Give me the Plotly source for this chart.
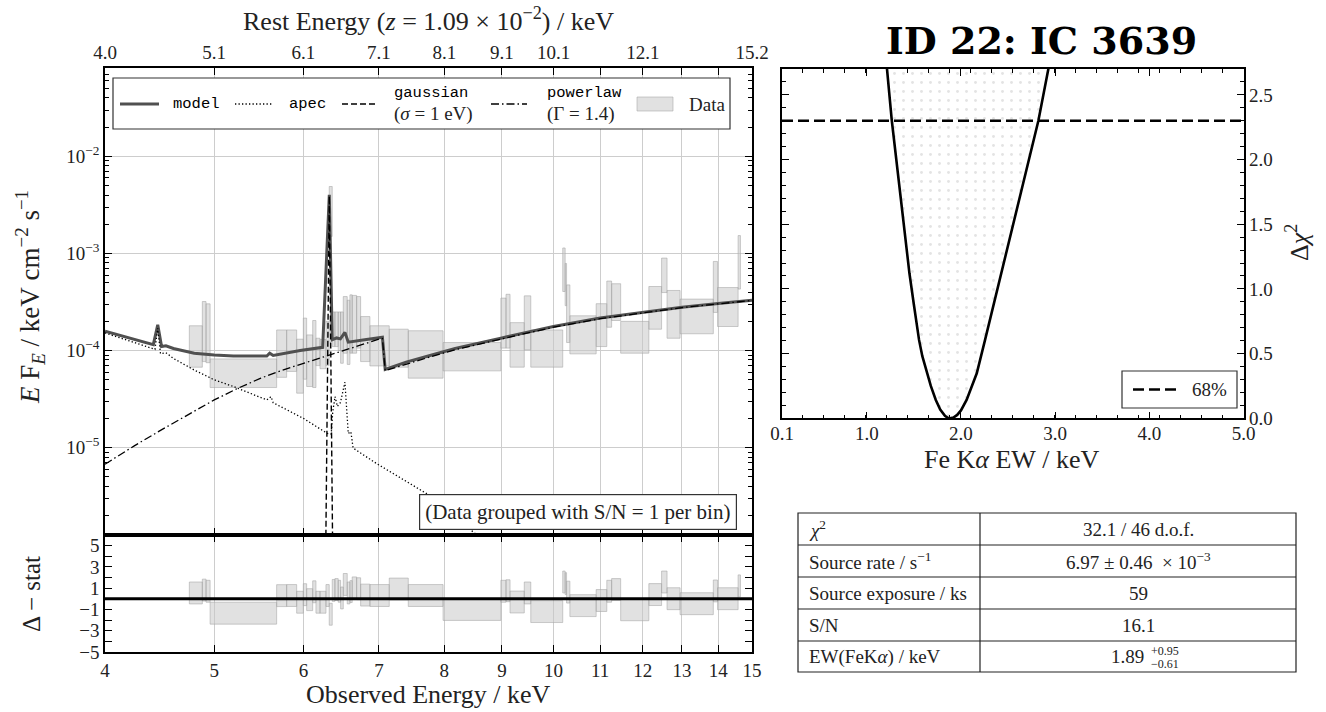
import plotly.graph_objects as go

W, H = 1326, 712
SERIF = "Liberation Serif"
MONO = "Liberation Mono"
NB = "\u00a0"

# ---------------- data ----------------
bin_lo = [4.752, 4.880, 4.917, 4.958, 5.680, 5.797, 5.917, 5.998, 6.039, 6.114,
          6.155, 6.206, 6.282, 6.324, 6.363, 6.398, 6.441, 6.473, 6.508, 6.561,
          6.597, 6.628, 6.688, 6.743, 6.872, 7.149, 7.432, 7.980, 8.980, 9.075,
          9.150, 9.420, 9.546, 10.19, 10.24, 10.27, 10.34, 10.91, 11.15, 11.26,
          11.47, 12.15, 12.47, 12.61, 12.95, 13.86, 13.98, 14.58]
bin_hi = [4.880, 4.917, 4.958, 5.680, 5.797, 5.917, 5.998, 6.039, 6.114, 6.155,
          6.206, 6.282, 6.324, 6.363, 6.398, 6.441, 6.473, 6.508, 6.561, 6.597,
          6.628, 6.688, 6.743, 6.872, 7.149, 7.432, 7.980, 8.980, 9.075, 9.150,
          9.420, 9.546, 10.19, 10.24, 10.27, 10.34, 10.91, 11.15, 11.26, 11.47,
          12.15, 12.47, 12.61, 12.95, 13.86, 13.98, 14.58, 14.65]
flux_lo = [6.74e-5, 7.7e-5, 7.5e-5, 4.16e-5, 5.3e-5, 6.1e-5, 3.64e-5, 5.07e-5, 4.26e-5, 4.16e-5,
           7.0e-5, 6.5e-5, 7.0e-5, 1.5e-3, 1.1e-4, 1.1e-4, 1.0e-4, 7.4e-5, 9.4e-5, 7.2e-5,
           9.4e-5, 9.4e-5, 1.06e-4, 7.7e-5, 6.95e-5, 6.74e-5, 5.2e-5, 6.18e-5, 1.06e-4, 1.06e-4,
           6.75e-5, 1.02e-4, 6.75e-5, 4.06e-4, 2.9e-4, 1.21e-4, 9.25e-5, 1.1e-4, 1.74e-4, 2.04e-4,
           9.4e-5, 1.66e-4, 3.96e-4, 1.34e-4, 1.49e-4, 2.47e-4, 1.77e-4, 4.3e-4]
flux_hi = [1.80e-4, 3.2e-4, 3.03e-4, 8.2e-5, 1.63e-4, 1.63e-4, 1.31e-4, 2.16e-4, 1.45e-4, 2.04e-4,
           1.34e-4, 1.3e-4, 2.0e-4, 4.9e-3, 2.5e-4, 2.5e-4, 2.5e-4, 2.5e-4, 3.6e-4, 3.3e-4,
           3.75e-4, 3.7e-4, 3.6e-4, 2.24e-4, 1.80e-4, 1.66e-4, 1.6e-4, 1.21e-4, 3.47e-4, 3.8e-4,
           1.94e-4, 3.66e-4, 1.63e-4, 1.14e-3, 7.9e-4, 4.75e-4, 2.28e-4, 3.04e-4, 5.2e-4, 4.88e-4,
           2.0e-4, 4.57e-4, 8.97e-4, 4.16e-4, 3.39e-4, 8.28e-4, 4.46e-4, 1.53e-3]
resid = [0.55, 0.82, 0.71, -1.35, 0.30, 0.31, -0.32, 0.39, -0.08, 0.66,
         -0.32, -0.32, 0.31, -1.45, 0.79, 0.87, 0.71, 0.08, 1.35, 0.55,
         0.68, 1.03, 0.95, 0.35, 0.31, 0.92, 0.31, -1.00, 0.71, 0.76,
         -0.30, 0.55, -1.20, 1.58, 1.43, 0.63, -0.64, -0.16, 0.71, 0.87,
         -1.03, 0.40, 1.58, 0.01, -0.46, 0.74, 0.01, 1.22]
resid_err = [1.03] * len(resid)

model_e = [4.00, 4.20, 4.415, 4.455, 4.49, 4.53, 4.60, 4.80, 5.00, 5.20, 5.40, 5.567, 5.60, 5.64,
           5.96, 6.24, 6.325, 6.363, 6.42, 6.47, 6.53, 6.575, 6.80, 7.05, 7.09, 7.40, 7.77, 8.18,
           9.0, 10.0, 11.0, 12.0, 13.0, 14.0, 15.0]
model_f = [1.58e-4, 1.34e-4, 1.15e-4, 1.84e-4, 1.10e-4, 1.12e-4, 1.05e-4, 9.4e-5, 9.0e-5, 8.8e-5,
           8.8e-5, 8.8e-5, 9.4e-5, 8.9e-5, 1.00e-4, 1.08e-4, 4.03e-3, 1.29e-4, 1.35e-4, 1.32e-4,
           1.54e-4, 1.22e-4, 1.29e-4, 1.37e-4, 6.4e-5, 7.6e-5, 8.9e-5, 1.05e-4, 1.35e-4, 1.77e-4,
           2.16e-4, 2.49e-4, 2.79e-4, 3.05e-4, 3.30e-4]
apec_e = [4.00, 4.43, 4.455, 4.48, 4.53, 4.60, 4.80, 5.00, 5.20, 5.40, 5.567, 5.615, 5.64, 6.00,
          6.30, 6.35, 6.37, 6.40, 6.43, 6.47, 6.53, 6.575, 6.61, 6.64, 6.96, 7.77, 8.37, 9.00]
apec_f = [1.52e-4, 1.03e-4, 1.70e-4, 9.3e-5, 9.5e-5, 8.3e-5, 6.3e-5, 5.0e-5, 4.26e-5, 3.6e-5,
          3.1e-5, 3.35e-5, 2.9e-5, 2.0e-5, 1.4e-5, 1.38e-5, 2.35e-5, 3.36e-5, 2.66e-5, 2.9e-5,
          4.72e-5, 1.4e-5, 1.46e-5, 9.9e-6, 6.9e-6, 3.2e-6, 1.53e-6, 8.0e-7]
gauss_e = [6.280, 6.325, 6.368]
gauss_f = [1.0e-6, 3.9e-3, 1.0e-6]
pow_e = [4.00, 4.25, 4.50, 4.75, 5.00, 5.25, 5.50, 5.75, 6.00, 6.25, 6.50, 6.75, 7.00, 7.05,
         7.09, 7.77, 8.18, 9.0, 10.0, 11.0, 12.0, 13.0, 14.0, 15.0]
pow_f = [6.75e-6, 1.05e-5, 1.55e-5, 2.2e-5, 3.1e-5, 4.1e-5, 5.2e-5, 6.3e-5, 7.4e-5, 8.6e-5,
         9.9e-5, 1.15e-4, 1.31e-4, 1.33e-4, 6.2e-5, 8.6e-5, 1.02e-4, 1.32e-4, 1.74e-4, 2.13e-4,
         2.46e-4, 2.77e-4, 3.03e-4, 3.28e-4]

ew_grid = [1.200, 1.215, 1.266, 1.32, 1.372, 1.41, 1.453, 1.50, 1.555, 1.59, 1.627, 1.68,
           1.733, 1.78, 1.83, 1.86, 1.885, 1.92, 1.96, 2.00, 2.06, 2.11, 2.168, 2.256,
           2.34, 2.43, 2.52, 2.60, 2.71, 2.822, 2.928, 2.945]
dchi2 = [2.80, 2.70, 2.30, 1.95, 1.637, 1.38, 1.121, 0.88, 0.606, 0.48, 0.38, 0.25,
         0.142, 0.068, 0.019, 0.004, 0.0, 0.006, 0.026, 0.061, 0.142, 0.235, 0.348, 0.606,
         0.86, 1.121, 1.39, 1.637, 1.96, 2.30, 2.70, 2.80]
conf68 = 2.30

obs_ticks = [4, 5, 6, 7, 8, 9, 10, 11, 12, 13, 14, 15]
obs_ticktext = ["4", "5", "6", "7", "8", "9", "10", "11", "12", "13", "14", "15"]
rest_tickpos = [4, 5, 6, 7, 8, 9, 10, 12, 15]
rest_ticktext = ["4.0", "5.1", "6.1", "7.1", "8.1", "9.1", "10.1", "12.1", "15.2"]
flux_ticks = [1e-5, 1e-4, 1e-3, 1e-2]
flux_ticktext = ["10<sup>−5</sup>", "10<sup>−4</sup>", "10<sup>−3</sup>", "10<sup>−2</sup>"]
res_ticks = [-5, -3, -1, 1, 3, 5]
res_ticktext = ["−5", "−3", "−1", "1", "3", "5"]
res_minor = [-4, -2, 0, 2, 4]
ew_ticks = [0.1, 1.0, 2.0, 3.0, 4.0, 5.0]
ew_ticktext = ["0.1", "1.0", "2.0", "3.0", "4.0", "5.0"]
dchi_ticks = [0.0, 0.5, 1.0, 1.5, 2.0, 2.5]
dchi_ticktext = ["0.0", "0.5", "1.0", "1.5", "2.0", "2.5"]

table_rows = [
    ("<i>χ</i><sup>2</sup>", "32.1 / 46 d.o.f."),
    ("Source rate / s<sup>−1</sup>", "6.97 ± 0.46 " + NB + "× 10<sup>−3</sup>"),
    ("Source exposure / ks", "59"),
    ("S/N", "16.1"),
    ("EW(FeK<i>α</i>) / keV", "1.89"),
]
ew_err_up, ew_err_lo = "+0.95", "−0.61"

E_MIN, E_MAX = 4.0, 15.0
LOGF_MIN, LOGF_MAX = -5.90, -1.089
RES_MIN, RES_MAX = -5.0, 6.0
EW_MIN, EW_MAX = 0.1, 5.0
DCHI_MIN, DCHI_MAX = 0.0, 2.70


def px(xp):
    return xp / W


def py(yp):
    return 1 - yp / H


def boxes(lo, hi, ylo, yhi):
    xs, ys = [], []
    for a, b, c, d in zip(lo, hi, ylo, yhi):
        xs += [a, b, b, a, a, None]
        ys += [c, c, d, d, c, None]
    return xs, ys


fig = go.Figure()

BOX_FILL = "rgba(200,200,200,0.55)"
BOX_LINE = "rgba(165,165,165,0.7)"
MODEL_COLOR = "#505050"
DOT = "1.3px,2.2px"
DASH = "6px,3px"
DASHDOT = "8px,3px,1.5px,3px"

bx, by = boxes(bin_lo, bin_hi, flux_lo, flux_hi)
fig.add_trace(go.Scatter(x=bx, y=by, mode="lines", fill="toself", fillcolor=BOX_FILL,
                         line=dict(color=BOX_LINE, width=0.8), name="Data", hoverinfo="skip"))
fig.add_trace(go.Scatter(x=model_e, y=model_f, mode="lines", name="model",
                         line=dict(color=MODEL_COLOR, width=3)))
fig.add_trace(go.Scatter(x=apec_e, y=apec_f, mode="lines", name="apec",
                         line=dict(color="black", width=1.3, dash=DOT)))
fig.add_trace(go.Scatter(x=gauss_e, y=gauss_f, mode="lines", name="gaussian",
                         line=dict(color="black", width=1.4, dash=DASH)))
fig.add_trace(go.Scatter(x=pow_e, y=pow_f, mode="lines", name="powerlaw",
                         line=dict(color="black", width=1.3, dash=DASHDOT)))

res_lo = [r - e for r, e in zip(resid, resid_err)]
res_hi = [r + e for r, e in zip(resid, resid_err)]
rx, ry = boxes(bin_lo, bin_hi, res_lo, res_hi)
fig.add_trace(go.Scatter(x=rx, y=ry, mode="lines", fill="toself", fillcolor=BOX_FILL,
                         line=dict(color=BOX_LINE, width=0.8), xaxis="x2", yaxis="y2",
                         hoverinfo="skip"))
fig.add_trace(go.Scatter(x=[E_MIN, E_MAX], y=[0, 0], mode="lines", xaxis="x2", yaxis="y2",
                         line=dict(color="black", width=3), hoverinfo="skip"))
fig.add_trace(go.Scatter(x=[E_MIN, E_MAX], y=[None, None], mode="lines", xaxis="x3", yaxis="y",
                         hoverinfo="skip"))

fig.add_trace(go.Scatter(x=ew_grid, y=dchi2, mode="lines", xaxis="x4", yaxis="y4",
                         fill="toself", fillcolor="white",
                         fillpattern=dict(shape=".", fgcolor="#c8c8c8", bgcolor="white",
                                          size=9, solidity=0.08),
                         line=dict(color="black", width=2.6), hoverinfo="skip"))
fig.add_trace(go.Scatter(x=[EW_MIN, EW_MAX], y=[conf68, conf68], mode="lines", xaxis="x4", yaxis="y4",
                         name="68%", line=dict(color="black", width=2.6, dash="11px,5px")))

axis_common = dict(showline=True, linecolor="black", linewidth=1.6, ticks="inside",
                   tickcolor="black", tickwidth=1.3, ticklen=7, automargin=False,
                   tickfont=dict(family=SERIF, size=19, color="#222"), zeroline=False)

minor_flux = [m * 10 ** e for e in range(-7, 0) for m in range(2, 10)]

main_xdom = [px(105), px(752)]
fig.update_layout(
    width=W, height=H, margin=dict(l=0, r=0, t=0, b=0),
    paper_bgcolor="white", plot_bgcolor="white", showlegend=False,
    font=dict(family=SERIF, color="#222"),
    xaxis=dict(axis_common, domain=main_xdom, anchor="y", type="log",
               range=[0.60206, 1.176091], tickvals=obs_ticks, showticklabels=False,
               mirror="ticks", showgrid=True, gridcolor="#cdcdcd", gridwidth=1),
    yaxis=dict(axis_common, domain=[py(535), py(68)], anchor="x", type="log",
               range=[LOGF_MIN, LOGF_MAX], tickvals=flux_ticks, ticktext=flux_ticktext,
               mirror="ticks", showgrid=True, gridcolor="#cdcdcd", gridwidth=1,
               minor=dict(ticks="inside", ticklen=4, tickwidth=1, tickcolor="black",
                          tickvals=minor_flux, showgrid=False)),
    xaxis2=dict(axis_common, domain=main_xdom, anchor="y2", type="log",
                range=[0.60206, 1.176091], tickvals=obs_ticks, ticktext=obs_ticktext,
                mirror="ticks", showgrid=True, gridcolor="#cdcdcd", gridwidth=1),
    yaxis2=dict(axis_common, domain=[py(652), py(535)], anchor="x2",
                range=[RES_MIN, RES_MAX], tickvals=res_ticks, ticktext=res_ticktext,
                mirror="ticks", showgrid=False,
                minor=dict(ticks="inside", ticklen=7, tickwidth=1.3, tickcolor="black",
                           tickvals=res_minor, showgrid=False)),
    xaxis3=dict(axis_common, overlaying="x", side="top", anchor="y", type="log",
                range=[0.60206, 1.176091], tickvals=rest_tickpos, ticktext=rest_ticktext,
                ticks="", showline=False, showgrid=False, ticklabelstandoff=4),
    xaxis4=dict(axis_common, domain=[px(782), px(1243.5)], anchor="y4",
                range=[EW_MIN, EW_MAX], tickvals=ew_ticks, ticktext=ew_ticktext,
                mirror="ticks", showgrid=False, ticklabelstandoff=-3,
                minor=dict(ticks="inside", ticklen=4, tickwidth=1, tickcolor="black",
                           tickvals=[EW_MIN + i * (EW_MAX - EW_MIN) / 22 for i in range(23)])),
    yaxis4=dict(axis_common, domain=[py(418.3), py(69)], anchor="x4", side="right",
                range=[DCHI_MIN, DCHI_MAX], tickvals=dchi_ticks, ticktext=dchi_ticktext,
                mirror="ticks", showgrid=False,
                minor=dict(ticks="inside", ticklen=4, tickwidth=1, tickcolor="black", dtick=0.1)),
)

ann = []
shapes = []


def text(t, x, y, size, xa="center", ya="middle", angle=0, family=SERIF, color="#222", **kw):
    d = dict(text=t, x=px(x), y=py(y), xref="paper", yref="paper", showarrow=False,
             xanchor=xa, yanchor=ya, textangle=angle,
             font=dict(family=family, size=size, color=color))
    d.update(kw)
    ann.append(d)


def hline(x0, x1, y, color="black", width=1.3, dash="solid"):
    shapes.append(dict(type="line", xref="paper", yref="paper", x0=px(x0), x1=px(x1),
                       y0=py(y), y1=py(y), line=dict(color=color, width=width, dash=dash)))


def rect(x0, x1, y0, y1, color="#333", width=1.2, fill=None, layer="above"):
    d = dict(type="rect", xref="paper", yref="paper", x0=px(x0), x1=px(x1), y0=py(y1), y1=py(y0),
             line=dict(color=color, width=width), layer=layer)
    if fill:
        d["fillcolor"] = fill
    shapes.append(d)


# axis titles
text("Rest Energy (<i>z</i>" + NB + "=" + NB + "1.09" + NB + "×" + NB + "10<sup>−2</sup>)" + NB + "/" + NB + "keV",
     428, 19, 26)
text("Observed Energy / keV", 428, 694, 26)
text("<i>E</i>" + NB + "F<sub><i>E</i></sub>" + NB + "/" + NB + "keV" + NB + "cm<sup>−2</sup>" + NB + "s<sup>−1</sup>",
     30, 297, 27, angle=-90)
text("Δ − stat", 31, 594, 25, angle=-90)
text("<b>ID 22: IC 3639</b>", 1041, 40, 38, family="DejaVu Serif", color="black")
text("Fe" + NB + "K<i>α</i>" + NB + "EW" + NB + "/" + NB + "keV", 1012, 459, 26)
text("Δ<i>χ</i><sup>2</sup>", 1298, 243, 26, angle=-90)

# annotation box in the main panel
text("(Data grouped with S/N" + NB + "=" + NB + "1 per bin)", 737, 530, 21, xa="right", ya="bottom",
     bordercolor="#333", borderwidth=1.2, borderpad=5, bgcolor="white")

# main legend (drawn by hand to match the reference layout)
LY = 104
rect(113, 730, 78, 129, color="#333", width=1.2, fill="white", layer="above")
hline(120, 159, LY, color=MODEL_COLOR, width=3)
text("model", 171, LY, 15.5, xa="left", family=MONO, color="black")
hline(235, 272, LY, width=1.3, dash=DOT)
text("apec", 287, LY, 15.5, xa="left", family=MONO, color="black")
hline(342, 378, LY, width=1.4, dash=DASH)
text("gaussian", 392, 93, 15.5, xa="left", family=MONO, color="black")
text("(<i>σ</i>" + NB + "=" + NB + "1" + NB + "eV)", 392, 114, 19, xa="left")
hline(491, 527, LY, width=1.3, dash=DASHDOT)
text("powerlaw", 545, 93, 15.5, xa="left", family=MONO, color="black")
text("(Γ" + NB + "=" + NB + "1.4)", 545, 114, 19, xa="left")
rect(637, 673, 97, 111, color=BOX_LINE, width=0.8, fill=BOX_FILL)
text("Data", 687, LY, 19, xa="left")

# delta-chi2 legend
rect(1122, 1237, 371, 408, color="#333", width=1.2, fill="white")
hline(1133, 1176, 389.5, width=2.6, dash="11px,5px")
text("68%", 1190, 389.5, 19, xa="left")

# table
tx0, tx1, txm = 798, 1296, 980
row_y = [513, 545, 577, 609, 641, 672]
rect(tx0, tx1, row_y[0], row_y[-1], color="#222", width=1.2)
shapes.append(dict(type="line", xref="paper", yref="paper", x0=px(txm), x1=px(txm),
                   y0=py(row_y[-1]), y1=py(row_y[0]), line=dict(color="#222", width=1.2)))
for yy in row_y[1:-1]:
    hline(tx0, tx1, yy, color="#222", width=1.2)
for i, (lab, val) in enumerate(table_rows):
    yc = (row_y[i] + row_y[i + 1]) / 2
    text(lab, tx0 + 9, yc, 19, xa="left")
    if i == 4:
        text(val, (txm + tx1) / 2 + 8, yc, 19, xa="right")
    else:
        text(val, (txm + tx1) / 2, yc, 19)
yc = (row_y[4] + row_y[5]) / 2
text(ew_err_up, (txm + tx1) / 2 + 11, yc - 6, 12, xa="left")
text(ew_err_lo, (txm + tx1) / 2 + 11, yc + 7, 12, xa="left")

fig.update_layout(annotations=ann, shapes=shapes)
fig.write_html("out.html")
